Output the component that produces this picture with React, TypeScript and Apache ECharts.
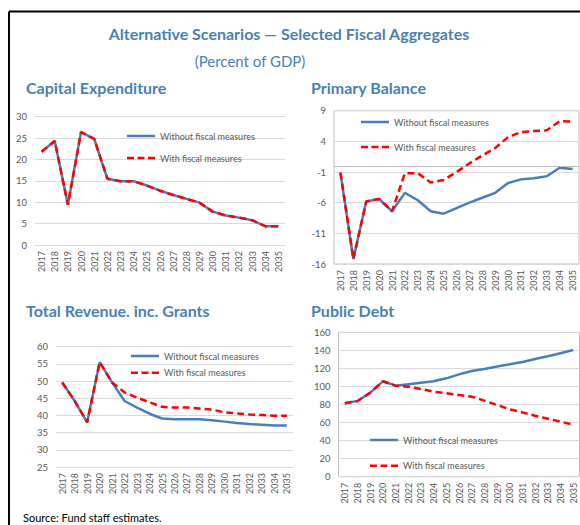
import React, { useEffect, useRef } from "react";
import * as echarts from "echarts";

const years = ["2017","2018","2019","2020","2021","2022","2023","2024","2025","2026","2027","2028","2029","2030","2031","2032","2033","2034","2035"];

const capexWithout = [21.8, 24.3, 9.4, 26.4, 24.8, 15.5, 14.9, 14.9, 13.9, 12.7, 11.7, 10.8, 9.9, 7.8, 6.9, 6.4, 5.8, 4.4, 4.4];
const capexWith = [21.8, 24.3, 9.4, 26.4, 24.8, 15.5, 14.9, 14.9, 13.9, 12.7, 11.7, 10.8, 9.9, 7.8, 6.9, 6.4, 5.8, 4.4, 4.4];

const balanceWithout = [-1.1, -15.2, -5.8, -5.4, -7.4, -4.4, -5.6, -7.4, -7.8, -6.9, -6.0, -5.2, -4.4, -2.8, -2.2, -2.0, -1.7, -0.3, -0.5];
const balanceWith = [-1.1, -15.2, -5.8, -5.4, -7.4, -1.2, -1.2, -2.7, -2.3, -1.0, 0.4, 1.7, 2.9, 4.7, 5.5, 5.7, 5.8, 7.3, 7.2];

const revenueWithout = [49.6, 44.2, 38.0, 55.5, 49.6, 44.2, 42.3, 40.5, 39.1, 38.9, 38.9, 38.9, 38.6, 38.2, 37.8, 37.5, 37.3, 37.1, 37.1];
const revenueWith = [49.6, 44.2, 38.0, 55.5, 49.6, 46.7, 45.2, 43.8, 42.5, 42.3, 42.3, 42.0, 41.7, 40.9, 40.6, 40.3, 40.1, 39.9, 39.9];

const debtWithout = [81.3, 83.9, 93.1, 105.7, 100.9, 102.4, 104.2, 105.7, 109.0, 113.4, 117.1, 119.4, 122.0, 124.5, 127.1, 130.4, 133.4, 136.7, 140.4];
const debtWith = [81.3, 83.9, 93.1, 105.7, 100.9, 99.8, 97.2, 94.2, 92.4, 90.5, 88.7, 84.3, 79.5, 74.6, 71.3, 67.6, 64.3, 61.0, 57.6];

const seriesNames = ["Without fiscal measures", "With fiscal measures"];
const panelTitles = ["Capital Expenditure", "Primary Balance", "Total Revenue. inc. Grants", "Public Debt"];
const mainTitle = "Alternative Scenarios \u2014 Selected Fiscal Aggregates";
const subTitle = "(Percent of GDP)";
const sourceNote = "Source: Fund staff estimates.";

const BLUE = "#4a7ebb";
const RED = "#ff0000";
const TITLE = "#4a7fb5";
const GRIDC = "#d9d9d9";
const BORDERC = "#bfbfbf";
const LABELC = "#595959";
const FONT = "Lato, 'Noto Sans', sans-serif";

const ICON_SOLID = "path://M0,0L0,0ZM0,3.75h28v2.5h-28zM28,10L28,10Z";
const ICON_DASH = "path://M0,0L0,0ZM0,3.75h7v2.5h-7zM10.5,3.75h7v2.5h-7zM21,3.75h7v2.5h-7zM28,10L28,10Z";

export default function App() {
  const ref = useRef<HTMLDivElement>(null);
  useEffect(() => {
    if (!ref.current) return;
    const chart = echarts.init(ref.current, null, { renderer: "svg" });

    const grids = [
      { left: 35, top: 116.7, width: 250, height: 128.3, show: false },
      { left: 334, top: 110.7, width: 245, height: 153.3, show: true, borderColor: BORDERC, borderWidth: 1 },
      { left: 56, top: 346.7, width: 237, height: 120.3, show: false },
      { left: 338.5, top: 332.3, width: 241, height: 144.4, show: true, borderColor: BORDERC, borderWidth: 1 },
    ];
    const yRanges = [
      { min: 0, max: 30, interval: 5 },
      { min: -16, max: 9, interval: 5 },
      { min: 25, max: 60, interval: 5 },
      { min: 0, max: 160, interval: 20 },
    ];
    const dataSets = [
      [capexWithout, capexWith],
      [balanceWithout, balanceWith],
      [revenueWithout, revenueWith],
      [debtWithout, debtWith],
    ];

    const xAxis = grids.map((_, i) => ({
      type: "category",
      gridIndex: i,
      data: years,
      boundaryGap: true,
      axisLine: { show: !grids[i].show, onZero: false, lineStyle: { color: GRIDC } },
      axisTick: { show: false },
      axisLabel: { rotate: 90, interval: 0, fontSize: 9, color: LABELC, fontFamily: FONT, margin: 6 },
    }));
    const yAxis = grids.map((_, i) => ({
      type: "value",
      gridIndex: i,
      ...yRanges[i],
      axisLine: { show: false },
      axisTick: { show: false },
      splitLine: { show: true, lineStyle: { color: GRIDC, width: 1 } },
      axisLabel: { fontSize: 9.5, color: LABELC, fontFamily: FONT, margin: 8 },
    }));

    const series: any[] = [];
    dataSets.forEach((pair, i) => {
      series.push({
        name: seriesNames[0],
        type: "line",
        xAxisIndex: i,
        yAxisIndex: i,
        data: pair[0],
        symbol: "none",
        lineStyle: { color: BLUE, width: 2.5 },
        itemStyle: { color: BLUE },
        z: 2,
        ...(i === 1
          ? {
              markLine: {
                silent: true,
                symbol: "none",
                label: { show: false },
                lineStyle: { color: BORDERC, type: "solid", width: 1 },
                data: [{ yAxis: 0 }],
              },
            }
          : {}),
      });
      series.push({
        name: seriesNames[1],
        type: "line",
        xAxisIndex: i,
        yAxisIndex: i,
        data: pair[1],
        symbol: "none",
        lineStyle: { color: RED, width: 2.5, type: [7, 4] },
        itemStyle: { color: RED },
        z: 3,
      });
    });

    const legendPos = [
      { left: 127, top: 131, itemGap: 12 },
      { left: 361, top: 117, itemGap: 15 },
      { left: 131, top: 351, itemGap: 6.7 },
      { left: 370, top: 435, itemGap: 15.7 },
    ];
    const legend = legendPos.map((p) => ({
      data: [
        { name: seriesNames[0], icon: ICON_SOLID },
        { name: seriesNames[1], icon: ICON_DASH },
      ],
      orient: "vertical",
      left: p.left,
      top: p.top,
      itemGap: p.itemGap,
      itemWidth: 28,
      itemHeight: 10,
      padding: 0,
      selectedMode: false,
      textStyle: { fontSize: 9, color: LABELC, fontFamily: FONT },
    }));

    const titlePos = [
      [26, 87],
      [311, 87],
      [26, 310],
      [311, 310],
    ];

    chart.setOption({
      animation: false,
      backgroundColor: "#ffffff",
      grid: grids,
      xAxis,
      yAxis,
      series,
      legend,
      graphic: [
        { type: "line", shape: { x1: 9, y1: 11.5, x2: 580, y2: 11.5 }, style: { stroke: "#000", lineWidth: 2 } },
        { type: "line", shape: { x1: 9, y1: 11.5, x2: 9, y2: 525 }, style: { stroke: "#000", lineWidth: 2 } },
        {
          type: "text",
          x: 289,
          y: 33,
          style: { text: mainTitle, fill: TITLE, font: `bold 16px ${FONT}`, textAlign: "center", textVerticalAlign: "middle" },
        },
        {
          type: "text",
          x: 250,
          y: 61,
          style: { text: subTitle, fill: TITLE, font: `15px ${FONT}`, textAlign: "center", textVerticalAlign: "middle" },
        },
        ...panelTitles.map((t, i) => ({
          type: "text",
          x: titlePos[i][0],
          y: titlePos[i][1],
          style: { text: t, fill: TITLE, font: `bold 16px ${FONT}`, textAlign: "left", textVerticalAlign: "middle" },
        })),
        {
          type: "text",
          x: 23,
          y: 517,
          style: { text: sourceNote, fill: "#000", font: `11px ${FONT}`, textAlign: "left", textVerticalAlign: "middle" },
        },
      ],
    });
    return () => chart.dispose();
  }, []);

  return <div ref={ref} style={{ position: "absolute", left: 0, top: 0, width: 580, height: 525 }} />;
}
